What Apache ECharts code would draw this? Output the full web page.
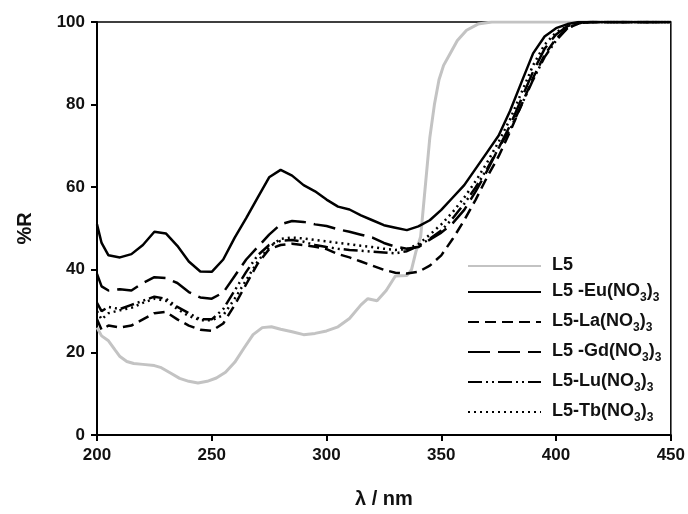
<!DOCTYPE html>
<html>
<head>
<meta charset="utf-8">
<script src="https://cdn.jsdelivr.net/npm/echarts@6/dist/echarts.min.js"></script>
<style>html,body{margin:0;padding:0;background:#fff}#c{width:688px;height:514px}</style>
</head>
<body>
<div id="c"></div>
<script>
// Wavelength grid (nm) shared by the lanthanide complexes
var wl = [200,202,205,210,215,220,225,230,235,240,245,250,255,260,265,270,275,280,285,290,295,300,305,310,315,320,325,330,335,340,345,350,355,360,365,370,375,380,385,390,395,400,405,410,415,420,430,440,450];
var euR = [51,46.5,43.5,43,43.8,46,49.2,48.8,45.8,42,39.6,39.5,42.5,47.8,52.5,57.5,62.4,64.2,62.8,60.5,59,57,55.3,54.6,53.2,52,50.8,50.2,49.6,50.5,52,54.5,57.5,60.5,64.5,68.5,72.5,78.5,85.5,92.4,96.5,98.5,99.5,100,100,100,100,100,100];
var laR = [28,25.5,26.5,26,26.5,28,29.5,29.8,28,26.5,25.5,25.2,27,31.5,36.5,41.5,45,46,46.3,46,45.6,45,43.8,43,42,41,40,39.3,39.1,39.5,41,43.5,47.5,52,57,62.5,67.5,73.5,80,86.5,92,96,98.5,99.7,100,100,100,100,100];
var gdR = [39,36,35,35.3,35,36.8,38.2,38,36.8,34.6,33.3,33,34.5,38.5,42.5,45.5,48.5,51,51.8,51.6,51,50.6,49.8,49.2,48.5,47.8,46.5,45.6,45.1,45.5,47.3,49,51.3,54.5,59,64,69.5,75,81.5,88,93.5,97,99,99.8,100,100,100,100,100];
var luR = [32,30,31,30.5,31.5,32.5,33.5,33,31,29.5,28,28,30.5,35,39.5,43.5,46,47,47.2,46.8,46,45.5,45.1,44.8,44.6,44.4,44.2,44,44.5,45.8,47.5,49.5,52.5,56,60,64.5,69.5,74,80,86,91.5,95.5,98.5,99.7,100,100,100,100,100];
var tbR = [30,28,29.5,30.2,30.8,32,33,32.5,30.5,28.8,27.8,27.8,29,33,37.5,42,45.5,47.5,47.8,47.6,47.2,46.9,46.5,46.2,45.8,45.5,45.1,44.8,45,46.2,48.5,51,54,57.5,61.5,66,71,76.5,83,89.5,94.5,97.5,99,99.8,100,100,100,100,100];
// Free ligand L5 (own grid)
var l5Wl = [200,202,205,208,210,213,216,220,225,228,232,236,240,244,248,252,256,260,264,268,272,276,280,285,290,295,300,305,310,315,318,322,326,330,335,337,339,341,343,345,347,349,351,354,357,361,366,372,380,450];
var l5R  = [26,24,22.8,20.5,19,17.8,17.3,17.1,16.8,16.3,15,13.7,13,12.6,13,13.8,15.2,17.6,21,24.3,26,26.2,25.6,25,24.3,24.6,25.2,26.2,28.2,31.5,33,32.5,35,38.5,38.6,40,44.5,48,60,72,80,86,89.5,92.5,95.5,98,99.5,100,100,100];
var xTicks = [200,250,300,350,400,450];
var yTicks = [0,20,40,60,80,100];
var names = ['L5','L5-Eu(NO3)3','L5-La(NO3)3','L5-Gd(NO3)3','L5-Lu(NO3)3','L5-Tb(NO3)3'];

function zip(x, y){ return x.map(function(v,i){ return [v, y[i]]; }); }

var legendText = {
  'L5': '{b|L5}',
  'L5-Eu(NO3)3': '{b|L5 -Eu(NO}{s|3}{b|)}{s|3}',
  'L5-La(NO3)3': '{b|L5-La(NO}{s|3}{b|)}{s|3}',
  'L5-Gd(NO3)3': '{b|L5 -Gd(NO}{s|3}{b|)}{s|3}',
  'L5-Lu(NO3)3': '{b|L5-Lu(NO}{s|3}{b|)}{s|3}',
  'L5-Tb(NO3)3': '{b|L5-Tb(NO}{s|3}{b|)}{s|3}'
};

function mk(name, data, color, width, dash){
  return {name:name, type:'line', data:data, showSymbol:false, symbol:'none', smooth:false,
    lineStyle:{color:color, width:width, type:dash}, itemStyle:{color:color}, z: name==='L5'?1:2, animation:false};
}

var chart = echarts.init(document.getElementById('c'), null, {renderer:'canvas'});
var font = '"Liberation Sans", Arial, sans-serif';
chart.setOption({
  animation:false,
  backgroundColor:'#fff',
  grid:{left:97, right:17, top:22, bottom:78, show:true, borderColor:'#000', borderWidth:1.5, backgroundColor:'transparent'},
  legend:{
    orient:'vertical', left:462, top:251, itemWidth:73, itemHeight:14, itemGap:8,
    data:names,
    itemStyle:{opacity:0},
    formatter:function(n){ return legendText[n]; },
    textStyle:{fontFamily:font, color:'#111', padding:[0,0,0,6],
      rich:{
        b:{fontFamily:font, fontSize:18, fontWeight:'bold', color:'#111', lineHeight:20, verticalAlign:'top'},
        s:{fontFamily:font, fontSize:12, fontWeight:'bold', color:'#111', lineHeight:12, verticalAlign:'top', padding:[10,0,0,0]}
      }}
  },
  xAxis:{type:'value', min:200, max:450, interval:50,
    name:'λ / nm', nameLocation:'middle', nameGap:54,
    nameTextStyle:{fontFamily:font, fontSize:20, fontWeight:'bold', color:'#111'},
    axisLine:{show:true, lineStyle:{color:'#000', width:2}},
    axisTick:{show:true, inside:false, length:6, lineStyle:{color:'#000', width:2}},
    axisLabel:{fontFamily:font, fontSize:17, fontWeight:'bold', color:'#111', margin:12,
      formatter:function(v){ return xTicks.indexOf(v)>=0 ? String(v) : ''; }},
    splitLine:{show:false}},
  yAxis:{type:'value', min:0, max:100, interval:20,
    name:'%R', nameLocation:'middle', nameGap:62, nameRotate:90,
    nameTextStyle:{fontFamily:font, fontSize:20, fontWeight:'bold', color:'#111'},
    axisLine:{show:true, lineStyle:{color:'#000', width:2}},
    axisTick:{show:true, inside:false, length:6, lineStyle:{color:'#000', width:2}},
    axisLabel:{fontFamily:font, fontSize:17, fontWeight:'bold', color:'#111', margin:12,
      formatter:function(v){ return yTicks.indexOf(v)>=0 ? String(v) : ''; }},
    splitLine:{show:false}},
  series:[
    mk(names[0], zip(l5Wl, l5R), '#c3c3c3', 3, 'solid'),
    mk(names[1], zip(wl, euR), '#000', 2.5, 'solid'),
    mk(names[2], zip(wl, laR), '#000', 2.5, [11,6]),
    mk(names[3], zip(wl, gdR), '#000', 2.5, [22,8]),
    mk(names[4], zip(wl, luR), '#000', 2.5, [14,4,2,4,2,4]),
    mk(names[5], zip(wl, tbR), '#000', 2.5, [2,4])
  ]
});
</script>
</body>
</html>
